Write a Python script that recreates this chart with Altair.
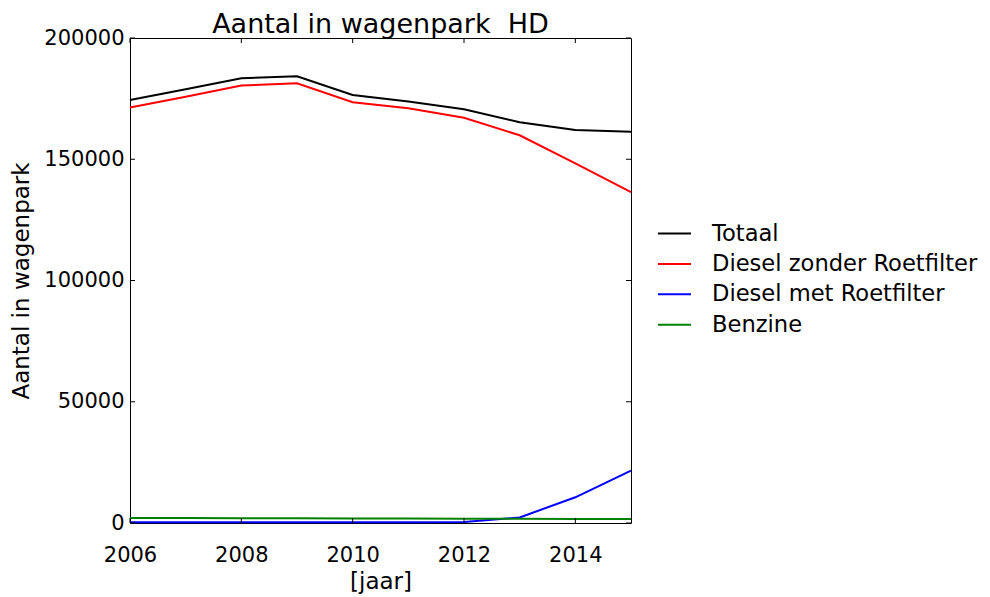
import altair as alt
import pandas as pd

years = [2006, 2007, 2008, 2009, 2010, 2011, 2012, 2013, 2014, 2015]
totaal = [174400, 178900, 183400, 184200, 176500, 173800, 170600, 165300, 162100, 161300]
diesel_zonder = [171300, 175800, 180400, 181300, 173500, 171000, 167100, 159900, 148300, 136400]
diesel_met = [300, 300, 300, 300, 300, 300, 400, 2300, 10600, 21600]
benzine = [2100, 2050, 2000, 1950, 1900, 1850, 1800, 1750, 1700, 1650]

series_names = ["Totaal", "Diesel zonder Roetfilter", "Diesel met Roetfilter", "Benzine"]
series_colors = ["#000000", "#ff0000", "#0000ff", "#008000"]
x_ticks = [2006, 2008, 2010, 2012, 2014]
y_ticks = [0, 50000, 100000, 150000, 200000]

rows = []
for k, (name, vals) in enumerate(zip(series_names, [totaal, diesel_zonder, diesel_met, benzine])):
    for yr, v in zip(years, vals):
        rows.append({"jaar": yr, "aantal": v, "serie": name, "volgorde": k})
df = pd.DataFrame(rows)

W, H = 501, 485
TICK = 5
FONT = "DejaVu Sans"

xscale = alt.Scale(domain=[2006, 2015], nice=False, zero=False)
yscale = alt.Scale(domain=[0, 200000], nice=False)
xaxis = alt.Axis(values=x_ticks, format="d", title="[jaar]", labelPadding=21, titlePadding=5,
                 labelFlush=False, labelOverlap=False)
yaxis = alt.Axis(values=y_ticks, format="d", title="Aantal in wagenpark", labelPadding=6,
                 titlePadding=10, labelFlush=False, labelOverlap=False)

lines = alt.Chart(df).mark_line(strokeWidth=2).encode(
    x=alt.X("jaar:Q", scale=xscale, axis=xaxis),
    y=alt.Y("aantal:Q", scale=yscale, axis=yaxis),
    color=alt.Color("serie:N",
                    scale=alt.Scale(domain=series_names, range=series_colors),
                    legend=alt.Legend(title=None, orient="none", legendX=527, legendY=178,
                                      symbolType="stroke", symbolSize=1089, symbolStrokeWidth=2,
                                      labelFontSize=22.6, labelFont=FONT, labelColor="black",
                                      labelOffset=20, rowPadding=0.4, padding=0, labelLimit=400)),
    order=alt.Order("volgorde:Q"),
)

xt_df = pd.DataFrame({"jaar": x_ticks})
yt_df = pd.DataFrame({"aantal": y_ticks})

tick_bottom = alt.Chart(xt_df).mark_rule(color="black", strokeWidth=1).encode(
    x=alt.X("jaar:Q", scale=xscale, axis=xaxis),
    y=alt.value(H), y2=alt.value(H - TICK))
tick_top = alt.Chart(xt_df).mark_rule(color="black", strokeWidth=1).encode(
    x=alt.X("jaar:Q", scale=xscale, axis=xaxis),
    y=alt.value(0), y2=alt.value(TICK))
tick_left = alt.Chart(yt_df).mark_rule(color="black", strokeWidth=1).encode(
    y=alt.Y("aantal:Q", scale=yscale, axis=yaxis),
    x=alt.value(0), x2=alt.value(TICK))
tick_right = alt.Chart(yt_df).mark_rule(color="black", strokeWidth=1).encode(
    y=alt.Y("aantal:Q", scale=yscale, axis=yaxis),
    x=alt.value(W), x2=alt.value(W - TICK))

chart = alt.layer(lines, tick_bottom, tick_top, tick_left, tick_right).properties(
    width=W, height=H,
    autosize=alt.AutoSizeParams(type="none"),
    padding={"left": 122, "top": 30, "right": 350, "bottom": 74},
    title=alt.TitleParams(text="Aantal in wagenpark \u00a0HD", fontSize=27, fontWeight="normal",
                          font=FONT, color="black", offset=2, dy=14, anchor="middle"),
).configure_view(
    stroke="black", strokeWidth=1
).configure_axis(
    grid=False, domain=False, ticks=False, tickSize=0,
    labelFont=FONT, labelFontSize=21, labelColor="black",
    titleFont=FONT, titleFontSize=23, titleFontWeight="normal", titleColor="black",
)

chart.save("out.html", embed_options={"renderer": "svg", "actions": False})
